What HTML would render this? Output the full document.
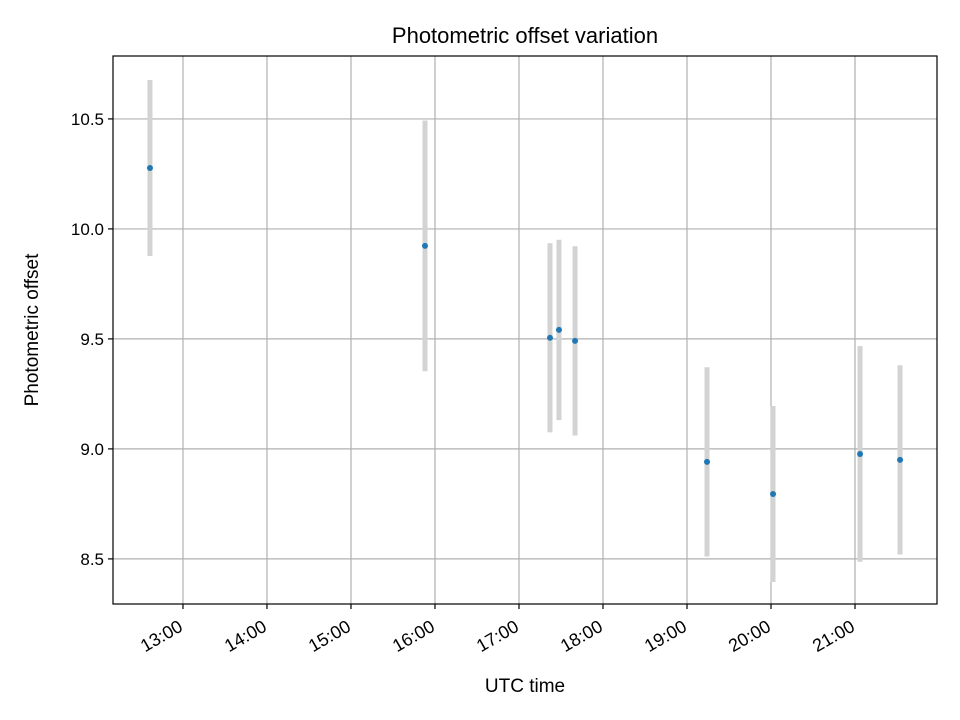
<!DOCTYPE html>
<html><head><meta charset="utf-8"><style>
html,body{margin:0;padding:0;background:#fff;}
svg{display:block;font-family:"Liberation Sans","DejaVu Sans",sans-serif;}
</style></head><body>
<svg id="chart" width="960" height="720" viewBox="0 0 960 720" xmlns="http://www.w3.org/2000/svg">
<rect x="0" y="0" width="960" height="720" fill="#fff"/>
<text x="525" y="43" text-anchor="middle" font-size="22">Photometric offset variation</text>
<g id="grid"></g>
<g id="errs"></g>
<g id="pts"></g>
<rect x="113" y="56" width="824" height="548" fill="none" stroke="#000" stroke-width="1.2"/>
<g id="xt"></g>
<g id="yt"></g>
<text x="525" y="692" text-anchor="middle" font-size="19">UTC time</text>
<text transform="translate(38,330) rotate(-90)" text-anchor="middle" font-size="19">Photometric offset</text>
</svg>
<script>
const times = [12.607, 15.881, 17.369, 17.476, 17.667, 19.238, 20.024, 21.06, 21.536];
const offsets = [10.277, 9.923, 9.505, 9.541, 9.491, 8.941, 8.795, 8.977, 8.95];
const errors = [0.40, 0.57, 0.43, 0.41, 0.43, 0.43, 0.40, 0.49, 0.43];
const xTickHours = [13, 14, 15, 16, 17, 18, 19, 20, 21];
const xTickLabels = ["13:00","14:00","15:00","16:00","17:00","18:00","19:00","20:00","21:00"];
const yTicks = [8.5, 9.0, 9.5, 10.0, 10.5];
const yTickLabels = ["8.5","9.0","9.5","10.0","10.5"];

const L=113,R=937,T=56,B=604;
const xMin=12.167,xMax=21.976,yMin=8.295,yMax=10.786;
const xs=h=>L+(h-xMin)/(xMax-xMin)*(R-L);
const ys=v=>B-(v-yMin)/(yMax-yMin)*(B-T);
const NS="http://www.w3.org/2000/svg";
function mk(tag,attrs,parent){const e=document.createElementNS(NS,tag);for(const k in attrs)e.setAttribute(k,attrs[k]);parent.appendChild(e);return e;}
const grid=document.getElementById('grid'),xt=document.getElementById('xt'),yt=document.getElementById('yt');
const errs=document.getElementById('errs'),pts=document.getElementById('pts');
xTickHours.forEach((h,i)=>{
  const x=xs(h);
  const g=mk('line',{x1:x,x2:x,y1:T,y2:B,stroke:'#b0b0b0','stroke-width':1.2},grid);
  
  
  const t=mk('line',{x1:x,x2:x,y1:B,y2:B+5,stroke:'#000','stroke-width':1.2},xt);
  
  
  const tx=mk('text',{transform:`translate(${x+1},${B+26}) rotate(-30)`,'text-anchor':'end','font-size':18},xt);
  tx.textContent=xTickLabels[i];
  
  
});
yTicks.forEach((v,i)=>{
  const y=ys(v);
  const g=mk('line',{x1:L,x2:R,y1:y,y2:y,stroke:'#b0b0b0','stroke-width':1.2},grid);
  
  
  const t=mk('line',{x1:L-5,x2:L,y1:y,y2:y,stroke:'#000','stroke-width':1.2},yt);
  
  
  const tx=mk('text',{x:L-9,y:y+6,'text-anchor':'end','font-size':17},yt);
  tx.textContent=yTickLabels[i];
  
  
});
times.forEach((h,i)=>{
  const x=xs(h);
  const e=mk('line',{x1:x,x2:x,y1:ys(offsets[i]+errors[i]),y2:ys(offsets[i]-errors[i]),stroke:'#d3d3d3','stroke-width':5},errs);
  
  
  const c=mk('circle',{cx:x,cy:ys(offsets[i]),r:3,fill:'#1f77b4'},pts);
  
  
});
</script>
</body></html>
